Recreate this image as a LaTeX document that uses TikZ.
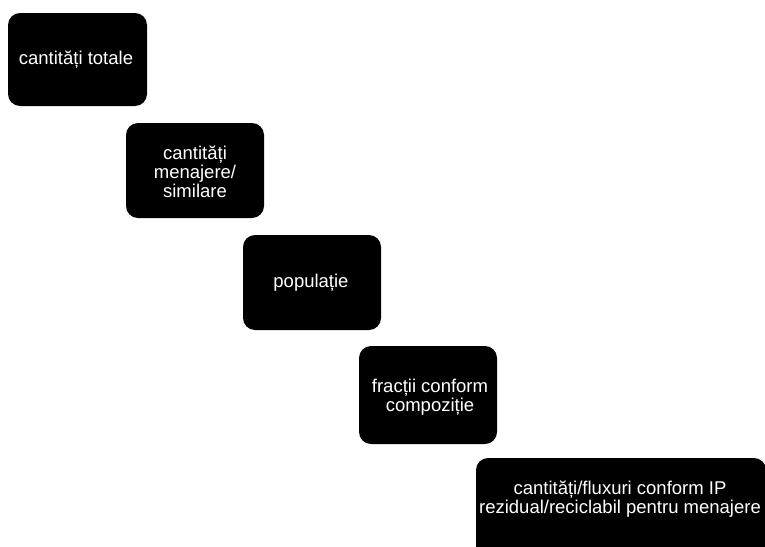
\documentclass[tikz,border=0pt]{standalone}
\usepackage{fontspec}
\setmainfont{Liberation Sans}
\begin{document}
\begin{tikzpicture}[x=1pt,y=-1pt,
  stepbox/.style={fill=black,rounded corners=12pt},
  boxtext/.style={text=white,align=center,font=\fontsize{18.5}{19}\selectfont,inner sep=0pt}]
\useasboundingbox (0,0) rectangle (765,546);
\clip (0,0) rectangle (765,546);
\fill[stepbox] (8,13) rectangle (147,106);
\node[boxtext] (t1) at (76,60) {cantități totale};
\fill[stepbox] (126,123) rectangle (264,218);
\node[boxtext] (t2) at (195,172) {cantități\\menajere/\\similare};
\fill[stepbox] (243,235) rectangle (381,330);
\node[boxtext] (t3) at (311,283) {populație};
\fill[stepbox] (359,346) rectangle (497,444);
\node[boxtext] (t4) at (430,397) {fracții conform\\compoziție};
\fill[stepbox] (476,458) rectangle (766,560);
\node[boxtext] (t5) at (620,499) {cantități/fluxuri conform IP\\rezidual/reciclabil pentru menajere};
\end{tikzpicture}
\end{document}
